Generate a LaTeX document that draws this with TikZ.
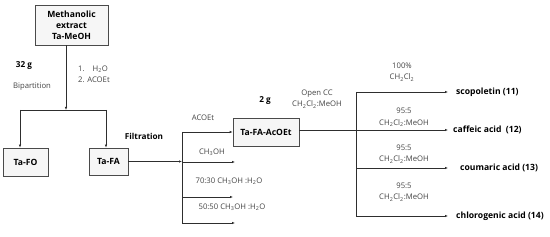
\documentclass[tikz,border=0pt]{standalone}
\usepackage{fontspec}
\setmainfont{Open Sans}
\usetikzlibrary{arrows.meta}
\definecolor{linegray}{HTML}{2E2E2E}
\definecolor{boxedge}{HTML}{4A4A4A}
\definecolor{boxfill}{HTML}{F6F6F6}
\definecolor{labelgray}{HTML}{444444}
\newcommand{\sub}[1]{\textsubscript{#1}}

\begin{document}
\begin{tikzpicture}[x=1pt, y=-1pt,
  box/.style={rectangle, draw=boxedge, fill=boxfill, line width=0.6pt, font=\fontsize{8.6}{11}\selectfont\bfseries, align=center, inner sep=0pt},
  lbl/.style={font=\fontsize{7.7}{11.5}\selectfont, text=labelgray, align=center, inner sep=0pt},
  bold/.style={font=\fontsize{8.2}{9}\selectfont\bfseries, inner sep=0pt},
  prod/.style={font=\fontsize{8.6}{10}\selectfont\bfseries, anchor=west, inner sep=0pt},
  arrow/.style={-{Latex[length=3pt,width=2.4pt]}, draw=linegray, line width=0.6pt},
  line/.style={draw=linegray, line width=0.6pt}
]
\useasboundingbox (0,0) rectangle (550,237);

% boxes
\node[box, minimum width=73pt, minimum height=40pt] (meoh) at (71.5,25) {Methanolic\\extract\\Ta-MeOH};
\node[box, minimum width=45pt, minimum height=28pt] (tafo) at (25.5,162) {Ta-FO};
\node[box, minimum width=39pt, minimum height=27pt] (tafa) at (108.5,161.5) {Ta-FA};
\node[box, minimum width=66pt, minimum height=28pt] (tafaac) at (266,132) {Ta-FA-AcOEt};

% products
\node[prod] (scop) at (456,92) {scopoletin (11)};
\node[prod] (caff) at (453,130) {caffeic acid\ \ (12)};
\node[prod] (coum) at (460,168) {coumaric acid (13)};
\node[prod] (chlo) at (456,216) {chlorogenic acid (14)};

% labels
\node[bold] (mass1) at (24,66) {32 g};
\node[lbl] (bipart) at (32,87) {Bipartition};
\node[lbl, align=left, anchor=west] (steps) at (78,74.5) {1.\ \ \ \ H\sub{2}O\\2. ACOEt};
\node[bold] (filt) at (144,136) {Filtration};
\node[lbl] (acoet) at (203,118) {ACOEt};
\node[lbl] (meth) at (212,152) {CH\sub{3}OH};
\node[lbl] (mix1) at (229,181) {70:30 CH\sub{3}OH :H\sub{2}O};
\node[lbl] (mix2) at (232,207) {50:50 CH\sub{3}OH :H\sub{2}O};
\node[bold] (mass2) at (265,101) {2 g};
\node[lbl] (opencc) at (317,99) {Open CC\\CH\sub{2}Cl\sub{2}:MeOH};
\node[lbl] (el1) at (402,72) {100\%\\CH\sub{2}Cl\sub{2}};
\node[lbl] (el2) at (404,117.5) {95:5\\CH\sub{2}Cl\sub{2}:MeOH};
\node[lbl] (el3) at (404,154) {95:5\\CH\sub{2}Cl\sub{2}:MeOH};
\node[lbl] (el4) at (404,192) {95:5\\CH\sub{2}Cl\sub{2}:MeOH};

% bipartition
\coordinate (split) at (66,110);
\coordinate (splitl) at (20,110);
\coordinate (splitr) at (106,110);
\draw[arrow] (meoh.south -| split) -- (split);
\draw[line] (splitl) -- (splitr);
\draw[arrow] (splitl) -- (splitl |- tafo.north);
\draw[arrow] (splitr) -- (splitr |- tafa.north);

% filtration
\coordinate (ftop) at (182,132);
\coordinate (fmid) at (182,161.5);
\coordinate (fbot) at (182,223);
\coordinate (f2) at (182,162);
\coordinate (f2e) at (235,162);
\coordinate (f3) at (182,197);
\coordinate (f3e) at (233,197);
\coordinate (f4e) at (235,223);
\draw[arrow] (tafa.east) -- (fmid);
\draw[line] (ftop) -- (fbot);
\draw[arrow] (ftop) -- (tafaac.west);
\draw[arrow] (f2) -- (f2e);
\draw[arrow] (f3) -- (f3e);
\draw[arrow] (fbot) -- (f4e);

% open CC
\coordinate (ctop) at (356,92);
\coordinate (cmid) at (356,130);
\coordinate (c3) at (356,168);
\coordinate (cbot) at (356,216);
\draw[line] (tafaac.east |- cmid) -- (cmid);
\draw[line] (ctop) -- (cbot);
\draw[arrow, shorten >=8pt] (ctop) -- (scop.west);
\draw[arrow, shorten >=5pt] (cmid) -- (caff.west);
\draw[arrow, shorten >=12pt] (c3) -- (coum.west);
\draw[arrow, shorten >=8pt] (cbot) -- (chlo.west);
\end{tikzpicture}
\end{document}
